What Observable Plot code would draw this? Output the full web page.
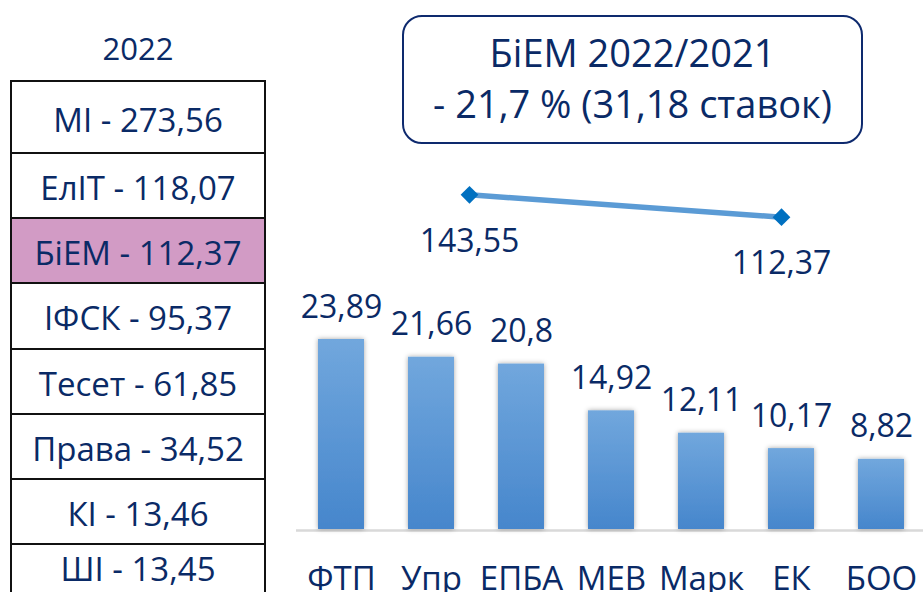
<!DOCTYPE html>
<html><head><meta charset="utf-8">
<script src="https://cdn.jsdelivr.net/npm/d3@7"></script>
<script src="https://cdn.jsdelivr.net/npm/@observablehq/plot@0.6"></script>
<style>
body{margin:0;background:#fff;font-family:"Open Sans",sans-serif;}
#wrap{position:relative;width:923px;height:592px;overflow:hidden;background:#fff;}
#wrap svg{position:absolute;left:0;top:0;}
#year{position:absolute;left:10px;width:256px;top:30px;text-align:center;font-size:31px;color:#0a2a66;line-height:1.2;}
.row{position:absolute;left:10px;width:256px;box-sizing:border-box;border:2px solid #111;display:flex;align-items:center;justify-content:center;font-size:33px;color:#0a2a66;line-height:1;padding-top:4px;white-space:nowrap;}
#box{position:absolute;left:402px;top:15px;width:461px;height:129px;box-sizing:border-box;border:2.5px solid #0e2a6e;border-radius:20px;padding-top:10px;text-align:center;font-size:38px;line-height:51px;color:#0a2a66;white-space:nowrap;}
</style></head>
<body>
<div id="wrap"></div>
<script>
const categories = ["ФТП","Упр","ЕПБА","МЕВ","Марк","ЕК","БОО"];
const values = [23.89,21.66,20.8,14.92,12.11,10.17,8.82];
const tableNames = ["МІ","ЕлІТ","БіЕМ","ІФСК","Тесет","Права","КІ","ШІ"];
const tableValues = [273.56,118.07,112.37,95.37,61.85,34.52,13.46,13.45];
const highlightName = "БіЕМ";
const yearTitle = "2022";
const years = ["2021","2022"];
const biemValues = [143.55,112.37];
const boxLines = ["БіЕМ 2022/2021","- 21,7 % (31,18 ставок)"];

const navy = "#0a2a66";
const fmt = v => String(v).replace(".", ",");
const wrap = document.getElementById("wrap");

// left table
const yr = document.createElement("div"); yr.id = "year"; yr.textContent = yearTitle; wrap.appendChild(yr);
tableNames.forEach((n, i) => {
  const r = document.createElement("div");
  r.className = "row";
  const top = i === 0 ? 80 : 152 + (i - 1) * 65.2;
  const h = i === 0 ? 74 : 67.2;
  r.style.top = top + "px";
  r.style.height = h + "px";
  if (i === tableNames.length - 1) { r.style.paddingTop = "0px"; r.style.paddingBottom = "16px"; }
  if (n === highlightName) r.style.background = "#d29bc5";
  r.textContent = n + " - " + fmt(tableValues[i]);
  wrap.appendChild(r);
});

// box
const box = document.createElement("div"); box.id = "box";
boxLines.forEach(t => { const d = document.createElement("div"); d.textContent = t; box.appendChild(d); });
wrap.appendChild(box);

// bars
const barData = categories.map((c, i) => ({c, v: values[i]}));
const bars = Plot.plot({
  width: 923, height: 592, marginLeft: 296, marginRight: 0, marginTop: 0, marginBottom: 63,
  style: {background: "transparent", fontFamily: "Open Sans", overflow: "visible"},
  x: {type: "band", domain: categories, range: [296, 926], paddingInner: 0.49, paddingOuter: 0.245, label: null},
  y: {domain: [0, d3.max(values)], range: [529, 339], axis: null, label: null},
  marks: [
    Plot.ruleY([0], {stroke: "#d9d9d9", strokeWidth: 2.5, dy: 1}),
    Plot.barY(barData, {x: "c", y: "v", fill: "url(#barGrad)"}),
    Plot.text(barData, {x: "c", y: "v", text: d => fmt(d.v), lineAnchor: "bottom", dy: -22, fontSize: 32, fill: navy}),
    Plot.axisX({tickSize: 0, tickPadding: 37, fontSize: 33, color: navy, label: null})
  ]
});
const s = d3.select(bars);
const defs = s.insert("defs", ":first-child");
const g = defs.append("linearGradient").attr("id", "barGrad").attr("x1", 0).attr("y1", 0).attr("x2", 0).attr("y2", 1);
g.append("stop").attr("offset", "0%").attr("stop-color", "#71a7dd");
g.append("stop").attr("offset", "100%").attr("stop-color", "#4686cc");
const f = defs.append("filter").attr("id", "shadow").attr("x", "-30%").attr("y", "-10%").attr("width", "160%").attr("height", "120%");
f.append("feDropShadow").attr("dx", 0).attr("dy", 0).attr("stdDeviation", 2.5).attr("flood-color", "#000").attr("flood-opacity", 0.35);
s.selectAll("g[aria-label=bar]").attr("filter", "url(#shadow)");
wrap.appendChild(bars);

// line
const lineData = years.map((y, i) => ({y, v: biemValues[i]}));
const line = Plot.plot({
  width: 923, height: 592, margin: 0,
  style: {background: "transparent", fontFamily: "Open Sans", overflow: "visible"},
  x: {type: "point", domain: years, range: [469, 781], padding: 0, axis: null, label: null},
  y: {domain: [d3.min(biemValues), d3.max(biemValues)], range: [216.7, 194.3], axis: null, label: null},
  marks: [
    Plot.line(lineData, {x: "y", y: "v", stroke: "#5b9bd5", strokeWidth: 5.5}),
    Plot.dot(lineData, {x: "y", y: "v", symbol: "diamond2", r: 8, fill: "#0070c0", stroke: "none"}),
    Plot.text(lineData, {x: "y", y: "v", text: d => fmt(d.v), lineAnchor: "bottom", dy: 57, fontSize: 32, fill: navy})
  ]
});
wrap.appendChild(line);
</script>
</body></html>
